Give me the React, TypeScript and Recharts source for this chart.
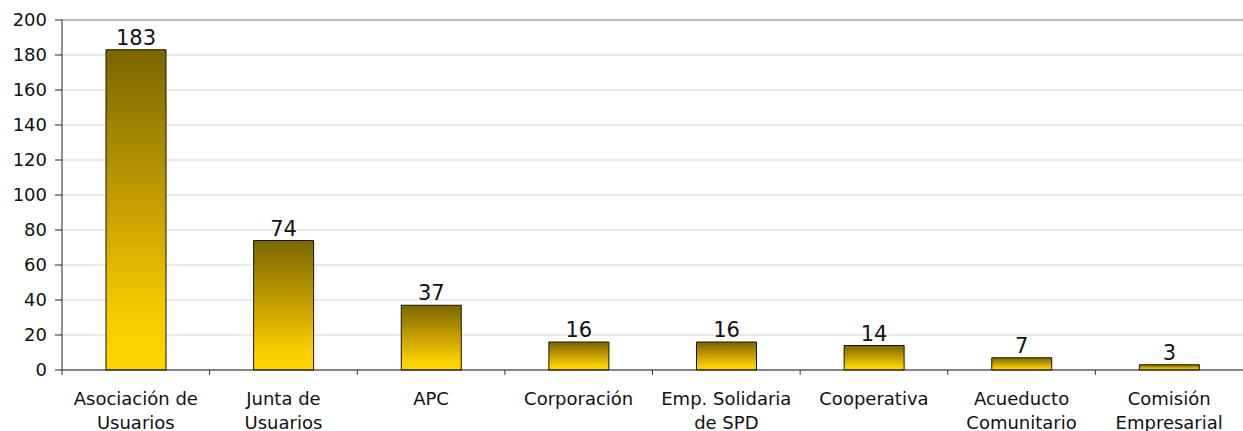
import { BarChart, Bar, XAxis, YAxis, CartesianGrid, LabelList, ReferenceLine } from 'recharts';

const CATEGORIES = [
    'Asociación de\nUsuarios',
    'Junta de\nUsuarios',
    'APC',
    'Corporación',
    'Emp. Solidaria\nde SPD',
    'Cooperativa',
    'Acueducto\nComunitario',
    'Comisión\nEmpresarial',
];
const VALUES = [183, 74, 37, 16, 16, 14, 7, 3];
const Y_TICKS = [0, 20, 40, 60, 80, 100, 120, 140, 160, 180, 200];

const FONT = '"DejaVu Sans", Verdana, sans-serif';

const data = CATEGORIES.map((name, i) => ({ name, value: VALUES[i] }));

// two-line category labels + small tick mark on the left boundary of each band
function CategoryTick(props: any) {
    const { x, y, payload, width, visibleTicksCount } = props;
    const half = payload.offset ?? width / visibleTicksCount / 2;
    const lines = String(payload.value).split('\n');
    return (
        <g>
            <line x1={x - half} x2={x - half} y1={y} y2={y + 5} stroke="#333" />
            <text x={x} y={y} textAnchor="middle" fontSize={18} fill="#111" fontFamily={FONT}>
                {lines.map((line, i) => (
                    <tspan key={i} x={x} dy={i === 0 ? 35 : 24}>{line}</tspan>
                ))}
            </text>
        </g>
    );
}

export default function App() {
    return (
        <div style={{ position: 'absolute', left: 0, top: 0, background: '#fff' }}>
            <BarChart width={1243} height={431} data={data} margin={{ top: 20, right: 0, bottom: 0, left: 0 }}>
                <defs>
                    <linearGradient id="goldFill" x1="0" y1="0" x2="0" y2="1">
                        <stop offset="0%" stopColor="#7a6600" />
                        <stop offset="50%" stopColor="#c8a000" />
                        <stop offset="85%" stopColor="#f8cf00" />
                        <stop offset="100%" stopColor="#ffd500" />
                    </linearGradient>
                </defs>
                <CartesianGrid vertical={false} stroke="#d4d4d4" />
                <XAxis
                    dataKey="name"
                    height={61}
                    interval={0}
                    tickSize={0}
                    tickMargin={0}
                    tickLine={false}
                    axisLine={{ stroke: '#222' }}
                    tick={<CategoryTick />}
                />
                <YAxis
                    width={62}
                    domain={[0, 200]}
                    ticks={Y_TICKS}
                    tickSize={7}
                    tickMargin={8}
                    axisLine={{ stroke: '#222' }}
                    tickLine={{ stroke: '#222' }}
                    tick={{ fontSize: 18, fill: '#111', fontFamily: FONT }}
                />
                <ReferenceLine y={200} stroke="#8c8c8c" />
                <Bar dataKey="value" barSize={60} fill="url(#goldFill)" stroke="#1a1400" strokeWidth={1} isAnimationActive={false}>
                    <LabelList dataKey="value" position="top" offset={5} fontSize={21} fill="#111" fontFamily={FONT} />
                </Bar>
            </BarChart>
        </div>
    );
}
